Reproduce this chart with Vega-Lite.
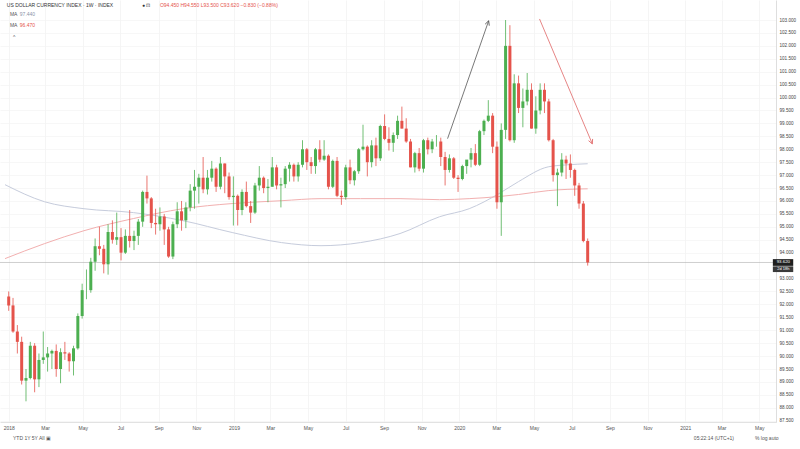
{
  "$schema": "https://vega.github.io/schema/vega-lite/v6.json",
  "width": 776,
  "height": 422,
  "autosize": {"type": "none"},
  "padding": {"left": 0, "top": 0, "right": 24, "bottom": 27},
  "background": "white",
  "config": {
    "view": {"stroke": null},
    "font": "Liberation Sans",
    "text": {"font": "Liberation Sans"}
  },
  "datasets": {
    "one": [{"k": 1}],
    "candles": [
      {"d": "2018-01-01", "o": 92.30, "h": 92.50, "l": 91.75, "c": 91.96},
      {"d": "2018-01-08", "o": 91.96, "h": 92.25, "l": 90.90, "c": 90.95},
      {"d": "2018-01-15", "o": 90.95, "h": 91.20, "l": 90.10, "c": 90.55},
      {"d": "2018-01-22", "o": 90.55, "h": 90.75, "l": 88.90, "c": 89.05},
      {"d": "2018-01-29", "o": 89.05, "h": 89.50, "l": 88.25, "c": 89.15},
      {"d": "2018-02-05", "o": 89.15, "h": 90.55, "l": 89.10, "c": 90.40},
      {"d": "2018-02-12", "o": 90.40, "h": 90.50, "l": 88.60, "c": 89.10},
      {"d": "2018-02-19", "o": 89.10, "h": 90.10, "l": 88.80, "c": 89.85},
      {"d": "2018-02-26", "o": 89.85, "h": 90.95, "l": 89.70, "c": 89.95},
      {"d": "2018-03-05", "o": 89.95, "h": 90.35, "l": 89.40, "c": 90.10},
      {"d": "2018-03-12", "o": 90.10, "h": 90.25, "l": 89.50, "c": 90.20},
      {"d": "2018-03-19", "o": 90.20, "h": 90.45, "l": 89.20, "c": 89.50},
      {"d": "2018-03-26", "o": 89.50, "h": 90.30, "l": 88.95, "c": 90.15},
      {"d": "2018-04-02", "o": 90.15, "h": 90.55, "l": 89.85, "c": 90.10},
      {"d": "2018-04-09", "o": 90.10, "h": 90.15, "l": 89.40, "c": 89.80},
      {"d": "2018-04-16", "o": 89.80, "h": 90.40, "l": 89.25, "c": 90.30},
      {"d": "2018-04-23", "o": 90.30, "h": 91.65, "l": 90.25, "c": 91.55},
      {"d": "2018-04-30", "o": 91.55, "h": 92.80, "l": 91.45, "c": 92.55},
      {"d": "2018-05-07", "o": 92.55, "h": 93.35, "l": 92.20, "c": 92.55},
      {"d": "2018-05-14", "o": 92.55, "h": 93.80, "l": 92.45, "c": 93.65},
      {"d": "2018-05-21", "o": 93.65, "h": 94.55, "l": 93.30, "c": 94.25},
      {"d": "2018-05-28", "o": 94.25, "h": 95.00, "l": 93.90, "c": 94.15},
      {"d": "2018-06-04", "o": 94.15, "h": 94.30, "l": 93.20, "c": 93.55},
      {"d": "2018-06-11", "o": 93.55, "h": 95.10, "l": 93.15, "c": 94.80},
      {"d": "2018-06-18", "o": 94.80, "h": 95.25, "l": 94.35, "c": 94.50},
      {"d": "2018-06-25", "o": 94.50, "h": 95.55, "l": 94.30, "c": 94.60},
      {"d": "2018-07-02", "o": 94.60, "h": 94.95, "l": 93.70, "c": 94.00},
      {"d": "2018-07-09", "o": 94.00, "h": 94.90, "l": 93.95, "c": 94.65},
      {"d": "2018-07-16", "o": 94.65, "h": 95.65, "l": 94.20, "c": 94.45},
      {"d": "2018-07-23", "o": 94.45, "h": 94.85, "l": 94.10, "c": 94.65},
      {"d": "2018-07-30", "o": 94.65, "h": 95.30, "l": 94.30, "c": 95.20},
      {"d": "2018-08-06", "o": 95.20, "h": 96.40, "l": 95.00, "c": 96.35},
      {"d": "2018-08-13", "o": 96.35, "h": 96.98, "l": 95.90, "c": 96.10},
      {"d": "2018-08-20", "o": 96.10, "h": 96.15, "l": 94.95, "c": 95.15},
      {"d": "2018-08-27", "o": 95.15, "h": 95.70, "l": 94.70, "c": 95.10},
      {"d": "2018-09-03", "o": 95.10, "h": 95.75, "l": 94.85, "c": 95.40},
      {"d": "2018-09-10", "o": 95.40, "h": 95.50, "l": 94.30, "c": 94.90},
      {"d": "2018-09-17", "o": 94.90, "h": 95.00, "l": 93.80, "c": 93.85},
      {"d": "2018-09-24", "o": 93.85, "h": 95.20, "l": 93.75, "c": 95.10},
      {"d": "2018-10-01", "o": 95.10, "h": 95.95, "l": 94.95, "c": 95.60},
      {"d": "2018-10-08", "o": 95.60, "h": 96.00, "l": 94.85, "c": 95.25},
      {"d": "2018-10-15", "o": 95.25, "h": 95.95, "l": 94.95, "c": 95.75},
      {"d": "2018-10-22", "o": 95.75, "h": 96.65, "l": 95.60, "c": 96.40},
      {"d": "2018-10-29", "o": 96.40, "h": 97.20, "l": 95.70, "c": 96.55},
      {"d": "2018-11-05", "o": 96.55, "h": 97.05, "l": 95.90, "c": 96.90},
      {"d": "2018-11-12", "o": 96.90, "h": 97.70, "l": 96.30, "c": 96.45},
      {"d": "2018-11-19", "o": 96.45, "h": 97.20, "l": 96.25, "c": 96.90},
      {"d": "2018-11-26", "o": 96.90, "h": 97.55, "l": 96.75, "c": 97.25},
      {"d": "2018-12-03", "o": 97.25, "h": 97.30, "l": 96.35, "c": 96.55},
      {"d": "2018-12-10", "o": 96.55, "h": 97.70, "l": 96.45, "c": 97.45},
      {"d": "2018-12-17", "o": 97.45, "h": 97.45, "l": 96.30, "c": 96.95},
      {"d": "2018-12-24", "o": 96.95, "h": 97.10, "l": 96.05, "c": 96.15},
      {"d": "2018-12-31", "o": 96.15, "h": 96.95, "l": 95.05, "c": 96.20},
      {"d": "2019-01-07", "o": 96.20, "h": 96.25, "l": 95.05, "c": 95.65},
      {"d": "2019-01-14", "o": 95.65, "h": 96.45, "l": 95.45, "c": 96.35},
      {"d": "2019-01-21", "o": 96.35, "h": 96.75, "l": 95.75, "c": 95.80},
      {"d": "2019-01-28", "o": 95.80, "h": 96.00, "l": 95.15, "c": 95.55},
      {"d": "2019-02-04", "o": 95.55, "h": 96.70, "l": 95.50, "c": 96.60},
      {"d": "2019-02-11", "o": 96.60, "h": 97.35, "l": 96.40, "c": 96.90},
      {"d": "2019-02-18", "o": 96.90, "h": 96.95, "l": 96.30, "c": 96.50},
      {"d": "2019-02-25", "o": 96.50, "h": 96.85, "l": 95.95, "c": 96.55},
      {"d": "2019-03-04", "o": 96.55, "h": 97.70, "l": 96.55, "c": 97.30},
      {"d": "2019-03-11", "o": 97.30, "h": 97.40, "l": 96.45, "c": 96.60},
      {"d": "2019-03-18", "o": 96.60, "h": 96.90, "l": 95.75, "c": 96.65},
      {"d": "2019-03-25", "o": 96.65, "h": 97.35, "l": 96.50, "c": 97.25},
      {"d": "2019-04-01", "o": 97.25, "h": 97.50, "l": 96.75, "c": 97.40},
      {"d": "2019-04-08", "o": 97.40, "h": 97.45, "l": 96.75, "c": 96.95},
      {"d": "2019-04-15", "o": 96.95, "h": 97.50, "l": 96.75, "c": 97.40},
      {"d": "2019-04-22", "o": 97.40, "h": 98.35, "l": 97.30, "c": 98.00},
      {"d": "2019-04-29", "o": 98.00, "h": 98.05, "l": 97.20, "c": 97.50},
      {"d": "2019-05-06", "o": 97.50, "h": 97.70, "l": 97.05, "c": 97.35},
      {"d": "2019-05-13", "o": 97.35, "h": 98.05, "l": 97.05, "c": 98.00},
      {"d": "2019-05-20", "o": 98.00, "h": 98.35, "l": 97.50, "c": 97.60},
      {"d": "2019-05-27", "o": 97.60, "h": 98.35, "l": 97.55, "c": 97.75},
      {"d": "2019-06-03", "o": 97.75, "h": 97.80, "l": 96.45, "c": 96.55},
      {"d": "2019-06-10", "o": 96.55, "h": 97.60, "l": 96.50, "c": 97.55},
      {"d": "2019-06-17", "o": 97.55, "h": 97.70, "l": 96.15, "c": 96.20},
      {"d": "2019-06-24", "o": 96.20, "h": 96.40, "l": 95.85, "c": 96.15},
      {"d": "2019-07-01", "o": 96.15, "h": 97.40, "l": 96.05, "c": 97.30},
      {"d": "2019-07-08", "o": 97.30, "h": 97.60, "l": 96.65, "c": 96.80},
      {"d": "2019-07-15", "o": 96.80, "h": 97.20, "l": 96.60, "c": 97.15},
      {"d": "2019-07-22", "o": 97.15, "h": 98.05, "l": 97.05, "c": 98.00},
      {"d": "2019-07-29", "o": 98.00, "h": 98.95, "l": 97.95, "c": 98.10},
      {"d": "2019-08-05", "o": 98.10, "h": 98.15, "l": 96.95, "c": 97.50},
      {"d": "2019-08-12", "o": 97.50, "h": 98.35, "l": 97.30, "c": 98.15},
      {"d": "2019-08-19", "o": 98.15, "h": 98.45, "l": 97.35, "c": 97.65},
      {"d": "2019-08-26", "o": 97.65, "h": 98.95, "l": 97.55, "c": 98.90},
      {"d": "2019-09-02", "o": 98.90, "h": 99.35, "l": 98.35, "c": 98.40},
      {"d": "2019-09-09", "o": 98.40, "h": 98.85, "l": 97.95, "c": 98.25},
      {"d": "2019-09-16", "o": 98.25, "h": 98.65, "l": 97.90, "c": 98.55},
      {"d": "2019-09-23", "o": 98.55, "h": 99.30, "l": 98.40, "c": 99.10},
      {"d": "2019-09-30", "o": 99.10, "h": 99.65, "l": 98.80, "c": 98.80},
      {"d": "2019-10-07", "o": 98.80, "h": 99.20, "l": 98.25, "c": 98.30},
      {"d": "2019-10-14", "o": 98.30, "h": 98.40, "l": 97.30, "c": 97.30},
      {"d": "2019-10-21", "o": 97.30, "h": 97.90, "l": 97.10, "c": 97.85},
      {"d": "2019-10-28", "o": 97.85, "h": 98.05, "l": 97.15, "c": 97.25},
      {"d": "2019-11-04", "o": 97.25, "h": 98.40, "l": 97.10, "c": 98.35},
      {"d": "2019-11-11", "o": 98.35, "h": 98.45, "l": 97.80, "c": 98.00},
      {"d": "2019-11-18", "o": 98.00, "h": 98.40, "l": 97.85, "c": 98.30},
      {"d": "2019-11-25", "o": 98.30, "h": 98.55, "l": 98.10, "c": 98.30},
      {"d": "2019-12-02", "o": 98.30, "h": 98.45, "l": 97.35, "c": 97.70},
      {"d": "2019-12-09", "o": 97.70, "h": 97.90, "l": 96.60, "c": 97.20},
      {"d": "2019-12-16", "o": 97.20, "h": 97.80, "l": 97.10, "c": 97.65},
      {"d": "2019-12-23", "o": 97.65, "h": 97.70, "l": 96.85, "c": 96.90},
      {"d": "2019-12-30", "o": 96.90, "h": 97.00, "l": 96.35, "c": 96.85},
      {"d": "2020-01-06", "o": 96.85, "h": 97.40, "l": 96.80, "c": 97.35},
      {"d": "2020-01-13", "o": 97.35, "h": 97.50, "l": 97.05, "c": 97.60},
      {"d": "2020-01-20", "o": 97.60, "h": 98.05, "l": 97.30, "c": 97.85},
      {"d": "2020-01-27", "o": 97.85, "h": 98.20, "l": 97.35, "c": 97.40},
      {"d": "2020-02-03", "o": 97.40, "h": 98.75, "l": 97.35, "c": 98.70},
      {"d": "2020-02-10", "o": 98.70, "h": 99.15, "l": 98.55, "c": 99.10},
      {"d": "2020-02-17", "o": 99.10, "h": 99.90, "l": 99.05, "c": 99.30},
      {"d": "2020-02-24", "o": 99.30, "h": 99.40, "l": 97.85, "c": 98.10},
      {"d": "2020-03-02", "o": 98.10, "h": 98.30, "l": 95.70, "c": 95.95},
      {"d": "2020-03-09", "o": 95.95, "h": 99.00, "l": 94.65, "c": 98.75},
      {"d": "2020-03-16", "o": 98.75, "h": 103.00, "l": 98.40, "c": 102.00},
      {"d": "2020-03-23", "o": 102.00, "h": 102.80, "l": 98.30, "c": 98.35},
      {"d": "2020-03-30", "o": 98.35, "h": 100.90, "l": 98.25, "c": 100.55},
      {"d": "2020-04-06", "o": 100.55, "h": 100.85, "l": 99.40, "c": 99.60},
      {"d": "2020-04-13", "o": 99.60, "h": 100.35, "l": 98.85, "c": 99.85},
      {"d": "2020-04-20", "o": 99.85, "h": 100.95, "l": 99.70, "c": 100.30},
      {"d": "2020-04-27", "o": 100.30, "h": 100.55, "l": 98.80, "c": 98.80},
      {"d": "2020-05-04", "o": 98.80, "h": 100.05, "l": 98.60, "c": 99.50},
      {"d": "2020-05-11", "o": 99.50, "h": 100.55, "l": 99.35, "c": 100.30},
      {"d": "2020-05-18", "o": 100.30, "h": 100.55, "l": 99.40, "c": 99.85},
      {"d": "2020-05-25", "o": 99.85, "h": 99.95, "l": 98.30, "c": 98.35},
      {"d": "2020-06-01", "o": 98.35, "h": 98.40, "l": 96.75, "c": 97.00},
      {"d": "2020-06-08", "o": 97.00, "h": 97.25, "l": 95.80, "c": 97.10},
      {"d": "2020-06-15", "o": 97.10, "h": 97.85, "l": 96.95, "c": 97.60},
      {"d": "2020-06-22", "o": 97.60, "h": 97.75, "l": 96.85, "c": 97.45},
      {"d": "2020-06-29", "o": 97.45, "h": 97.80, "l": 96.90, "c": 97.20},
      {"d": "2020-07-06", "o": 97.20, "h": 97.25, "l": 96.20, "c": 96.60},
      {"d": "2020-07-13", "o": 96.60, "h": 96.70, "l": 95.70, "c": 95.90},
      {"d": "2020-07-20", "o": 95.90, "h": 96.00, "l": 94.40, "c": 94.45},
      {"d": "2020-07-27", "o": 94.45, "h": 94.55, "l": 93.50, "c": 93.62}
    ],
    "ma100": [
      {"d": "2017-12-26", "v": 96.63},
      {"d": "2018-02-28", "v": 95.97},
      {"d": "2018-05-03", "v": 95.70},
      {"d": "2018-07-22", "v": 95.55},
      {"d": "2018-10-10", "v": 95.24},
      {"d": "2018-12-29", "v": 94.78},
      {"d": "2019-03-19", "v": 94.39},
      {"d": "2019-05-22", "v": 94.27},
      {"d": "2019-07-25", "v": 94.39},
      {"d": "2019-09-27", "v": 94.74},
      {"d": "2019-11-30", "v": 95.39},
      {"d": "2020-01-17", "v": 95.70},
      {"d": "2020-03-05", "v": 96.28},
      {"d": "2020-04-06", "v": 96.75},
      {"d": "2020-05-24", "v": 97.32},
      {"d": "2020-06-25", "v": 97.40},
      {"d": "2020-07-27", "v": 97.44}
    ],
    "ma200": [
      {"d": "2017-12-26", "v": 93.77},
      {"d": "2018-02-28", "v": 94.35},
      {"d": "2018-05-03", "v": 94.85},
      {"d": "2018-07-22", "v": 95.32},
      {"d": "2018-10-10", "v": 95.70},
      {"d": "2018-12-29", "v": 95.90},
      {"d": "2019-03-19", "v": 96.01},
      {"d": "2019-05-22", "v": 96.09},
      {"d": "2019-07-25", "v": 96.09},
      {"d": "2019-09-27", "v": 96.09},
      {"d": "2019-11-30", "v": 96.05},
      {"d": "2020-01-17", "v": 96.09},
      {"d": "2020-03-05", "v": 96.17},
      {"d": "2020-04-06", "v": 96.25},
      {"d": "2020-05-24", "v": 96.40},
      {"d": "2020-06-25", "v": 96.45},
      {"d": "2020-07-27", "v": 96.47}
    ]
  },
  "layer": [
    {
      "data": {"name": "ma100"},
      "mark": {"type": "line", "color": "#c6ccdc", "strokeWidth": 1, "interpolate": "monotone"},
      "encoding": {
        "x": {
          "field": "d", "type": "temporal", "title": null,
          "scale": {"domain": [{"year": 2017, "month": 12, "date": 26, "utc": true}, {"year": 2021, "month": 5, "date": 20, "utc": true}]},
          "axis": {
            "tickCount": {"interval": "month", "step": 2},
            "labelExpr": "utcmonth(datum.value) == 0 ? utcFormat(datum.value, '%Y') : utcFormat(datum.value, '%b')",
            "labelFontSize": 5, "labelColor": "#555", "labelPadding": 3,
            "labelOverlap": false, "labelFlush": false,
            "ticks": false, "domainColor": "#d6d6d6", "domainWidth": 0.7,
            "grid": true, "gridColor": "#f1f1f1", "gridWidth": 0.7
          }
        },
        "y": {
          "field": "v", "type": "quantitative", "title": null,
          "scale": {"domain": [87.45, 103.774], "nice": false, "zero": false},
          "axis": {
            "orient": "right",
            "tickCount": 40,
            "values": [87.5, 88, 88.5, 89, 89.5, 90, 90.5, 91, 91.5, 92, 92.5, 93, 94, 94.5, 95, 95.5, 96, 96.5, 97, 97.5, 98, 98.5, 99, 99.5, 100, 100.5, 101, 101.5, 102, 102.5, 103],
            "format": ".3f", "labelFontSize": 4.6, "labelColor": "#444", "labelPadding": 3,
            "labelOverlap": false, "labelFlush": false,
            "ticks": false, "domainColor": "#d0d0d0", "domainWidth": 0.7,
            "grid": true, "gridColor": "#f3f3f3", "gridWidth": 0.7
          }
        }
      }
    },
    {
      "data": {"name": "ma200"},
      "mark": {"type": "line", "color": "#f2b0b0", "strokeWidth": 1, "interpolate": "monotone"},
      "encoding": {
        "x": {"field": "d", "type": "temporal", "title": null},
        "y": {"field": "v", "type": "quantitative", "title": null}
      }
    },
    {
      "data": {"name": "one"},
      "mark": {"type": "rule", "color": "#b0b0b0", "strokeWidth": 0.6},
      "encoding": {"y": {"datum": 93.62, "type": "quantitative"}}
    },
    {
      "data": {"name": "candles"},
      "mark": {"type": "rule", "strokeWidth": 0.8},
      "encoding": {
        "x": {"field": "d", "type": "temporal", "title": null},
        "y": {"field": "l", "type": "quantitative", "title": null},
        "y2": {"field": "h"},
        "color": {"condition": {"test": "datum.c >= datum.o", "value": "#4caf50"}, "value": "#e5534b"}
      }
    },
    {
      "data": {"name": "candles"},
      "mark": {"type": "bar", "size": 3},
      "encoding": {
        "x": {"field": "d", "type": "temporal", "title": null},
        "y": {"field": "o", "type": "quantitative", "title": null},
        "y2": {"field": "c"},
        "color": {"condition": {"test": "datum.c >= datum.o", "value": "#4caf50"}, "value": "#e5534b"}
      }
    },
    {
      "data": {"name": "one"},
      "mark": {"type": "rule", "color": "#555555", "strokeWidth": 0.8},
      "encoding": {
        "x": {"datum": {"year": 2019, "month": 12, "date": 13, "utc": true}, "type": "temporal"},
        "y": {"datum": 98.41, "type": "quantitative"},
        "x2": {"datum": {"year": 2020, "month": 2, "date": 17, "hours": 14, "utc": true}},
        "y2": {"datum": 102.97}
      }
    },
    {
      "data": {"name": "one"},
      "mark": {"type": "point", "shape": "M -0.8 1.6 L 0 0 L 0.8 1.6", "filled": false, "stroke": "#555555", "strokeWidth": 0.8, "size": 30, "angle": 19.4, "opacity": 1},
      "encoding": {
        "x": {"datum": {"year": 2020, "month": 2, "date": 17, "hours": 14, "utc": true}, "type": "temporal"},
        "y": {"datum": 102.97, "type": "quantitative"}
      }
    },
    {
      "data": {"name": "one"},
      "mark": {"type": "rule", "color": "#e06666", "strokeWidth": 0.8},
      "encoding": {
        "x": {"datum": {"year": 2020, "month": 5, "date": 10, "utc": true}, "type": "temporal"},
        "y": {"datum": 103.04, "type": "quantitative"},
        "x2": {"datum": {"year": 2020, "month": 8, "date": 3, "hours": 12, "utc": true}},
        "y2": {"datum": 98.21}
      }
    },
    {
      "data": {"name": "one"},
      "mark": {"type": "point", "shape": "M -0.8 1.6 L 0 0 L 0.8 1.6", "filled": false, "stroke": "#e06666", "strokeWidth": 0.8, "size": 30, "angle": 156.9, "opacity": 1},
      "encoding": {
        "x": {"datum": {"year": 2020, "month": 8, "date": 3, "hours": 12, "utc": true}, "type": "temporal"},
        "y": {"datum": 98.21, "type": "quantitative"}
      }
    },
    {
      "data": {"name": "one"},
      "mark": {"type": "text", "align": "left", "baseline": "middle", "fontSize": 5, "color": "#333333", "text": "US DOLLAR CURRENCY INDEX · 1W · INDEX"},
      "encoding": {
        "x": {"datum": {"year": 2017, "month": 12, "date": 29, "utc": true}, "type": "temporal"},
        "y": {"datum": 103.58, "type": "quantitative"}
      }
    },
    {
      "data": {"name": "one"},
      "mark": {"type": "text", "align": "left", "baseline": "middle", "fontSize": 5, "color": "#333333", "text": "● ⊡"},
      "encoding": {
        "x": {"datum": {"year": 2018, "month": 8, "date": 5, "utc": true}, "type": "temporal"},
        "y": {"datum": 103.58, "type": "quantitative"}
      }
    },
    {
      "data": {"name": "one"},
      "mark": {"type": "text", "align": "left", "baseline": "middle", "fontSize": 5, "color": "#e5534b", "text": "O94.450  H94.550  L93.500  C93.620  −0.830 (−0.88%)"},
      "encoding": {
        "x": {"datum": {"year": 2018, "month": 9, "date": 3, "utc": true}, "type": "temporal"},
        "y": {"datum": 103.58, "type": "quantitative"}
      }
    },
    {
      "data": {"name": "one"},
      "mark": {"type": "text", "align": "left", "baseline": "middle", "fontSize": 5, "color": "#555555", "text": "MA"},
      "encoding": {
        "x": {"datum": {"year": 2018, "month": 1, "date": 3, "utc": true}, "type": "temporal"},
        "y": {"datum": 103.23, "type": "quantitative"}
      }
    },
    {
      "data": {"name": "one"},
      "mark": {"type": "text", "align": "left", "baseline": "middle", "fontSize": 5, "color": "#8a94a8", "text": "97.440"},
      "encoding": {
        "x": {"datum": {"year": 2018, "month": 1, "date": 19, "utc": true}, "type": "temporal"},
        "y": {"datum": 103.23, "type": "quantitative"}
      }
    },
    {
      "data": {"name": "one"},
      "mark": {"type": "text", "align": "left", "baseline": "middle", "fontSize": 5, "color": "#555555", "text": "MA"},
      "encoding": {
        "x": {"datum": {"year": 2018, "month": 1, "date": 3, "utc": true}, "type": "temporal"},
        "y": {"datum": 102.81, "type": "quantitative"}
      }
    },
    {
      "data": {"name": "one"},
      "mark": {"type": "text", "align": "left", "baseline": "middle", "fontSize": 5, "color": "#e5534b", "text": "96.470"},
      "encoding": {
        "x": {"datum": {"year": 2018, "month": 1, "date": 19, "utc": true}, "type": "temporal"},
        "y": {"datum": 102.81, "type": "quantitative"}
      }
    },
    {
      "data": {"name": "one"},
      "mark": {"type": "text", "align": "left", "baseline": "middle", "fontSize": 5, "color": "#555555", "text": "^"},
      "encoding": {
        "x": {"datum": {"year": 2018, "month": 1, "date": 8, "utc": true}, "type": "temporal"},
        "y": {"datum": 102.36, "type": "quantitative"}
      }
    },
    {
      "data": {"name": "one"},
      "mark": {"type": "text", "align": "left", "baseline": "middle", "fontSize": 5, "color": "#555555", "text": "YTD    1Y    5Y    All          ▣"},
      "encoding": {
        "x": {"datum": {"year": 2018, "month": 1, "date": 8, "utc": true}, "type": "temporal"},
        "y": {"datum": 86.82, "type": "quantitative"}
      }
    },
    {
      "data": {"name": "one"},
      "mark": {"type": "text", "align": "left", "baseline": "middle", "fontSize": 5, "color": "#555555", "text": "05:22:14 (UTC+1)"},
      "encoding": {
        "x": {"datum": {"year": 2021, "month": 1, "date": 15, "utc": true}, "type": "temporal"},
        "y": {"datum": 86.82, "type": "quantitative"}
      }
    },
    {
      "data": {"name": "one"},
      "mark": {"type": "text", "align": "left", "baseline": "middle", "fontSize": 5, "color": "#555555", "text": "%   log   auto"},
      "encoding": {
        "x": {"datum": {"year": 2021, "month": 4, "date": 24, "utc": true}, "type": "temporal"},
        "y": {"datum": 86.82, "type": "quantitative"}
      }
    },
    {
      "data": {"name": "one"},
      "mark": {"type": "rect", "color": "#1f1f1f"},
      "encoding": {
        "x": {"datum": {"year": 2021, "month": 5, "date": 23, "utc": true}, "type": "temporal"},
        "x2": {"datum": {"year": 2021, "month": 6, "date": 25, "utc": true}},
        "y": {"datum": 93.75, "type": "quantitative"},
        "y2": {"datum": 93.49}
      }
    },
    {
      "data": {"name": "one"},
      "mark": {"type": "rect", "color": "#3a3a3a"},
      "encoding": {
        "x": {"datum": {"year": 2021, "month": 5, "date": 23, "utc": true}, "type": "temporal"},
        "x2": {"datum": {"year": 2021, "month": 6, "date": 25, "utc": true}},
        "y": {"datum": 93.47, "type": "quantitative"},
        "y2": {"datum": 93.25}
      }
    },
    {
      "data": {"name": "one"},
      "mark": {"type": "text", "align": "center", "baseline": "middle", "fontSize": 4.4, "color": "#ffffff", "text": "93.620"},
      "encoding": {
        "x": {"datum": {"year": 2021, "month": 6, "date": 9, "utc": true}, "type": "temporal"},
        "y": {"datum": 93.62, "type": "quantitative"}
      }
    },
    {
      "data": {"name": "one"},
      "mark": {"type": "text", "align": "center", "baseline": "middle", "fontSize": 4, "color": "#ffffff", "text": "2d 18h"},
      "encoding": {
        "x": {"datum": {"year": 2021, "month": 6, "date": 9, "utc": true}, "type": "temporal"},
        "y": {"datum": 93.36, "type": "quantitative"}
      }
    }
  ]
}
